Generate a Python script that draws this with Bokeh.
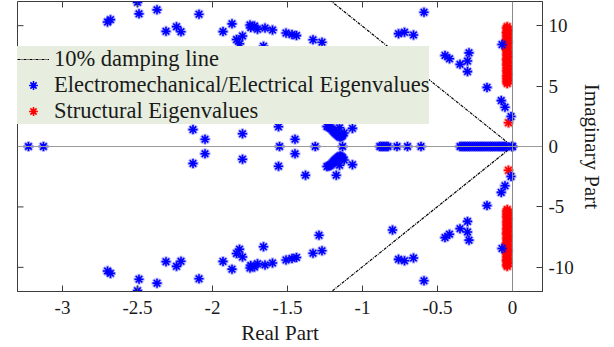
import math

from bokeh.plotting import figure
from bokeh.models import Span, Legend, LegendItem, FixedTicker, Range1d
from bokeh.embed import file_html
from bokeh.resources import INLINE

# Electromechanical / electrical modes with positive imaginary part
# (their complex conjugates are added below)
em_real_upper = [
    -2.70, -2.68, -2.50, -2.49, -2.37, -2.31, -2.24, -2.21, -2.09, -1.93,
    -1.87, -1.84, -1.82, -1.80, -1.75, -1.745, -1.72, -1.70, -1.65, -1.60,
    -1.66, -1.51, -1.47, -1.44, -1.33, -1.27, -1.29, -0.59, -0.76, -0.72,
    -0.66, -0.80, -0.45, -0.42, -0.35, -0.30, -0.29, -0.30, -0.17, -0.075,
    -0.05, -0.01, -0.07,
    -2.13, -2.05, -1.80, -1.56, -1.45, -1.38, -1.175, -1.067, -1.153,
    -1.237, -1.225, -1.215, -1.205, -1.197, -1.19, -1.182, -1.172, -1.164,
    -1.155, -1.149, -1.14, -1.133, -1.122,
]
em_imag_upper = [
    10.30, 10.50, 11.93, 10.98, 11.31, 9.53, 9.92, 9.50, 10.95, 9.51,
    10.15, 8.85, 8.50, 9.15, 10.05, 9.85, 9.97, 9.70, 9.80, 9.64,
    8.30, 9.39, 9.26, 9.18, 8.83, 8.63, 7.35, 11.11, 9.34, 9.45,
    9.23, 6.91, 7.54, 7.26, 6.80, 7.07, 7.75, 6.20, 4.89, 3.80,
    3.25, 2.48, 8.44,
    1.40, 0.60, 1.05, 1.63, 0.60, 2.38, 2.38, 1.50, 1.55,
    1.66, 1.62, 1.56, 1.45, 1.34, 1.22, 1.12, 1.02, 0.93,
    0.85, 0.79, 0.85, 0.93, 1.12,
]
# Purely real electromechanical / electrical modes
em_real_only = [
    -3.227, -3.127, -1.553, -1.315, -1.133,
    -0.885, -0.872, -0.858, -0.843, -0.830, -0.770, -0.700, -0.610,
    -0.350, -0.336, -0.322, -0.309, -0.294, -0.281, -0.266, -0.252,
    -0.238, -0.223, -0.210, -0.196, -0.182, -0.168, -0.153, -0.140,
    -0.126, -0.112, -0.097, -0.084, -0.070, -0.057, -0.044, -0.004, 0.0,
]

# Structural modes with positive imaginary part
st_real_upper = [
    -0.035, -0.038, -0.032, -0.036, -0.040, -0.033, -0.037, -0.034, -0.039, -0.035,
    -0.031, -0.036, -0.038, -0.034, -0.036, -0.040, -0.033, -0.035, -0.037, -0.032,
    -0.036, -0.039, -0.034, -0.035, -0.038, -0.033, -0.036, -0.034, -0.037, -0.035,
    -0.032, -0.038, -0.035, -0.036, -0.034, -0.037, -0.035, -0.027,
]
st_imag_upper = [
    9.92, 9.80, 9.65, 9.52, 9.40, 9.28, 9.15, 9.02, 8.90, 8.78,
    8.63, 8.50, 8.38, 8.24, 8.10, 7.98, 7.85, 7.72, 7.58, 7.44,
    7.30, 7.18, 7.05, 6.92, 6.78, 6.65, 6.52, 6.40, 6.26, 6.12,
    5.98, 5.85, 5.72, 5.60, 5.47, 5.35, 5.22, 1.97,
]

damping_ratio = 0.10
damping_line_real = [-1.5, 0.0, -1.5]

x_limits = (-3.3, 0.2)
y_limits = (-12, 12)
x_ticks = [-3, -2.5, -2, -1.5, -1, -0.5, 0]
x_tick_labels = ["-3", "-2.5", "-2", "-1.5", "-1", "-0.5", "0"]
y_ticks = [-10, -5, 0, 5, 10]
y_tick_labels = ["-10", "-5", "0", "5", "10"]

# full conjugate sets
em_x = em_real_upper + em_real_upper + em_real_only
em_y = em_imag_upper + [-v for v in em_imag_upper] + [0.0] * len(em_real_only)
st_x = st_real_upper + st_real_upper
st_y = st_imag_upper + [-v for v in st_imag_upper]

slope = (1 - damping_ratio ** 2) ** 0.5 / damping_ratio
damp_x = damping_line_real
damp_y = [-damp_x[0] * slope, 0.0, damp_x[2] * slope]

FONT = "Liberation Serif"
AXIS_COLOR = "#3c3c3c"
TEXT_COLOR = "#1a1a1a"

p = figure(
    width=614, height=347,
    x_range=Range1d(*x_limits), y_range=Range1d(*y_limits),
    x_axis_location="below", y_axis_location="right",
    output_backend="svg", toolbar_location=None,
    min_border_left=17, min_border_right=72,
    min_border_top=1, min_border_bottom=54,
)
p.grid.visible = False
p.outline_line_color = AXIS_COLOR
p.background_fill_color = "white"
p.border_fill_color = "white"

# reference axes through the origin
p.add_layout(Span(location=0, dimension="width", line_color="#9a9a9a", line_width=1))
p.add_layout(Span(location=0, dimension="height", line_color="#8a8a8a", line_width=1))

damp = p.line(damp_x, damp_y, line_color="black", line_width=1.2, line_dash="3 1 1 1")

# soft halo under the markers, then the markers themselves
p.scatter(st_x, st_y, marker="asterisk", size=11, line_color="red", line_width=3, line_alpha=0.35)
st = p.scatter(st_x, st_y, marker="asterisk", size=9, line_color="red", line_width=1.6)
p.scatter(em_x, em_y, marker="asterisk", size=11, line_color="blue", line_width=3, line_alpha=0.3)
em = p.scatter(em_x, em_y, marker="asterisk", size=9, line_color="blue", line_width=1.6)

# inward mirror ticks on the top and left edges of the box
p.ray(x=x_ticks, y=[y_limits[1]] * len(x_ticks), length=6, length_units="screen",
      angle=-math.pi / 2, line_color=AXIS_COLOR, line_width=1)
p.ray(x=[x_limits[0]] * len(y_ticks), y=y_ticks, length=6, length_units="screen",
      angle=0, line_color=AXIS_COLOR, line_width=1)


def style_axis(ax, ticks, labels):
    ax.ticker = FixedTicker(ticks=ticks)
    ax.major_label_overrides = {t: l for t, l in zip(ticks, labels)}
    ax.major_tick_in = 6
    ax.major_tick_out = 0
    ax.minor_tick_line_color = None
    ax.axis_line_color = AXIS_COLOR
    ax.major_tick_line_color = AXIS_COLOR
    ax.major_label_text_font = FONT
    ax.major_label_text_color = TEXT_COLOR
    ax.major_label_text_font_size = "19px"
    ax.axis_label_text_font = FONT
    ax.axis_label_text_font_style = "normal"
    ax.axis_label_text_color = TEXT_COLOR
    ax.axis_label_text_font_size = "21px"


xa = p.xaxis[0]
style_axis(xa, x_ticks, x_tick_labels)
xa.axis_label = "Real Part"
xa.major_label_standoff = 9
xa.axis_label_standoff = 4

ya = p.yaxis[0]
style_axis(ya, y_ticks, y_tick_labels)
ya.axis_label = "Imaginary Part"
ya.major_label_standoff = 6
ya.axis_label_standoff = 3

legend = Legend(
    items=[
        LegendItem(label="10% damping line", renderers=[damp]),
        LegendItem(label="Electromechanical/Electrical Eigenvalues", renderers=[em]),
        LegendItem(label="Structural Eigenvalues", renderers=[st]),
    ],
    location=(0, 167),
    background_fill_color="#e7eedf", background_fill_alpha=1,
    border_line_color=None,
    padding=1, spacing=0, margin=0,
    glyph_width=32, glyph_height=22, label_height=22, label_standoff=5,
    label_text_font=FONT, label_text_font_size="22.5px", label_text_color=TEXT_COLOR,
    label_text_line_height=0.95,
)
p.add_layout(legend)

open("out.html", "w").write(file_html(p, INLINE))
